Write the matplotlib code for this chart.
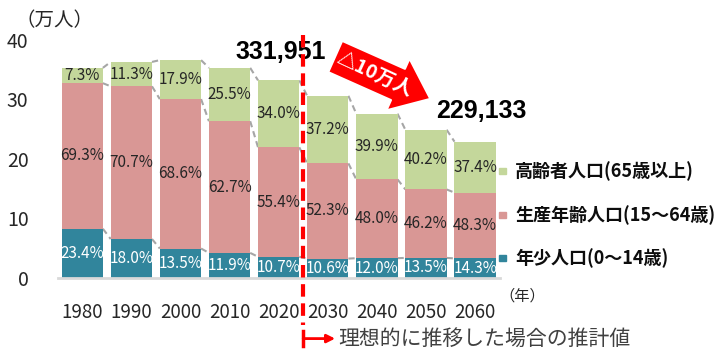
import numpy as np
import matplotlib.pyplot as plt
from matplotlib.patches import FancyArrowPatch

plt.rcParams['font.family'] = ['Noto Sans CJK JP', 'DejaVu Sans']

# data
years = ['1980', '1990', '2000', '2010', '2020', '2030', '2040', '2050', '2060']
total = [35.3, 36.3, 36.6, 35.3, 33.2, 30.6, 27.6, 24.9, 22.9]   # 万人
young_pct = [23.4, 18.0, 13.5, 11.9, 10.7, 10.6, 12.0, 13.5, 14.3]
work_pct = [69.3, 70.7, 68.6, 62.7, 55.4, 52.3, 48.0, 46.2, 48.3]
old_pct = [7.3, 11.3, 17.9, 25.5, 34.0, 37.2, 39.9, 40.2, 37.4]
series_names = ['年少人口(0～14歳)', '生産年齢人口(15～64歳)', '高齢者人口(65歳以上)']

c_young = '#31859c'
c_work = '#d99795'
c_old = '#c4d79b'

total = np.array(total)
young = total * np.array(young_pct) / 100
work = total * np.array(work_pct) / 100
old = total * np.array(old_pct) / 100

x = np.arange(len(years))
w = 0.84

fig = plt.figure(figsize=(7.21, 3.5), dpi=100)
ax = fig.add_axes([0.080, 0.206, 0.613, 0.680])

ax.bar(x, young, w, color=c_young, zorder=2)
ax.bar(x, work, w, bottom=young, color=c_work, zorder=2)
ax.bar(x, old, w, bottom=young + work, color=c_old, zorder=2)

# percent labels
for i in range(len(x)):
    ax.text(x[i], young[i] / 2, '%.1f%%' % young_pct[i], ha='center', va='center',
            color='white', fontsize=11)
    ax.text(x[i], young[i] + work[i] / 2, '%.1f%%' % work_pct[i], ha='center', va='center',
            color='#262626', fontsize=11)
    ax.text(x[i], young[i] + work[i] + old[i] / 2, '%.1f%%' % old_pct[i], ha='center',
            va='center', color='#262626', fontsize=11)

# series lines between bars
for tops in [young, young + work, total]:
    for i in range(len(x) - 1):
        ax.plot([x[i] + w / 2, x[i + 1] - w / 2], [tops[i], tops[i + 1]],
                color='#a6a6a6', lw=1.5, ls=(0, (3, 2)), zorder=1)

ax.set_xlim(-0.5, 8.5)
ax.set_ylim(0, 40)
ax.set_yticks([0, 10, 20, 30, 40])
ax.set_xticks(x)
ax.set_xticklabels(years)
ax.tick_params(axis='y', length=0, pad=21, labelsize=14, labelcolor='#262626')
ax.tick_params(axis='x', length=0, pad=17, labelsize=13.5, labelcolor='#262626')
for s in ['top', 'right', 'left']:
    ax.spines[s].set_visible(False)
ax.spines['bottom'].set_color('#d9d9d9')
ax.spines['bottom'].set_linewidth(2)

fig.text(0.022, 0.94, '（万人）', fontsize=14, color='#262626', va='center')
ax.text(8.5, -3.0, '（年）', fontsize=11, color='#262626', va='center', ha='left')

# totals
ax.text(4.05, 36.0, '331,951', ha='center', va='bottom', fontsize=18,
        fontweight='bold', family='Liberation Sans')
ax.text(8.12, 26.0, '229,133', ha='center', va='bottom', fontsize=18,
        fontweight='bold', family='Liberation Sans')

# red dashed divider
ax.plot([4.5, 4.5], [40.8, -7.9], color='#ff0000', lw=3, ls=(0, (3, 1.6)),
        clip_on=False, zorder=3)
ax.plot([4.5, 4.5], [-8.9, -11.5], color='#ff0000', lw=2.5, clip_on=False)
ax.annotate('', xy=(5.15, -10.2), xytext=(4.5, -10.2),
            arrowprops=dict(arrowstyle='-|>', color='#ff0000', lw=2,
                            mutation_scale=12, shrinkA=0, shrinkB=0),
            annotation_clip=False)
ax.text(5.22, -10.2, '理想的に推移した場合の推計値', fontsize=15, color='#404040',
        va='center', ha='left')

# big red arrow
arr = FancyArrowPatch((5.1, 37.4), (7.14, 29.9),
                      arrowstyle='simple,head_width=2.4,head_length=1.5,tail_width=1.45',
                      mutation_scale=17, facecolor='#ff0000', edgecolor='white',
                      lw=1.5, clip_on=False, zorder=5)
ax.add_patch(arr)
ax.text(5.95, 34.2, '△10万人', rotation=-25, rotation_mode='anchor', ha='center',
        va='center', color='white', fontsize=14, fontweight='bold', zorder=6)

# legend
leg_y = [258, 215, 171]
cols = [c_young, c_work, c_old]
for yy, col, name in zip(leg_y, cols, series_names):
    fy = 1 - yy / 350
    fig.patches.append(plt.Rectangle((503 / 721 - 0.005, fy - 0.009), 0.009, 0.018,
                                     transform=fig.transFigure, color=col))
    fig.text(515 / 721, fy, name, fontsize=13, fontweight='bold', color='#0d0d0d',
             va='center', ha='left')

plt.savefig('out.png', dpi=100)
